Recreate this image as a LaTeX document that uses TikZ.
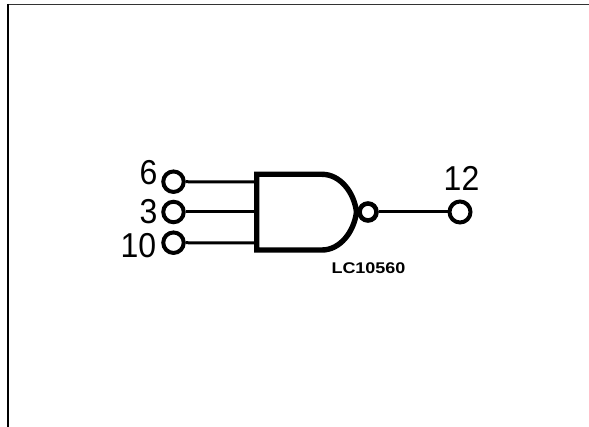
\documentclass[tikz,border=0pt]{standalone}
\usepackage{fontspec}
\setmainfont{Liberation Sans}
\tikzset{
  pin/.style={circle,draw=black,fill=white,line width=4pt,minimum size=20.5pt,inner sep=0pt},
  bubble/.style={circle,draw=black,fill=white,line width=4.6pt,minimum size=17pt,inner sep=0pt},
  wire/.style={draw=black,line width=3pt},
  gatebody/.style={draw=black,line width=5.4pt,line join=miter},
  pinlabel/.style={inner sep=0pt,font=\fontsize{32}{32}\selectfont,yscale=1.08},
  tag/.style={inner sep=0pt,font=\bfseries\fontsize{15.5}{16}\selectfont,xscale=1.16}
}
\begin{document}
\begin{tikzpicture}[x=1pt,y=-1pt]
\useasboundingbox (0,0) rectangle (589,427);
\fill[white] (0,0) rectangle (589,427);
% frame
\draw[line width=1.8pt,draw=black!80] (7,4.6) -- (589,4.6);
\draw[line width=2.1pt,draw=black] (7.6,4) -- (7.6,427);
% gate
\coordinate (g1) at (256.7,182);
\coordinate (g2) at (256.7,212);
\coordinate (g3) at (256.7,243);
\draw[gatebody] (256.7,174.3) -- (322,174.3) .. controls (340,174.3) and (354,192) .. (356.5,212)
  .. controls (354,232) and (340,250) .. (322,250) -- (256.7,250) -- cycle;
% pins
\node[pin] (p6) at (173.5,181.7) {};
\node[pin] (p3) at (173.5,212) {};
\node[pin] (p10) at (173.5,242.7) {};
\node[pin,minimum size=21pt] (p12) at (460,212) {};
\node[bubble] (b) at (368,212) {};
\draw[wire] (p6) -- (g1);
\draw[wire] (p3) -- (g2);
\draw[wire] (p10) -- (g3);
\draw[wire] (b) -- (p12);
% labels
\node[pinlabel] (l6) at (148.5,172.7) {6};
\node[pinlabel] (l3) at (148.5,212) {3};
\node[pinlabel] (l10) at (138.5,245.5) {10};
\node[pinlabel] (l12) at (461.5,178.5) {12};
\node[tag] (t) at (368.5,268) {LC10560};
\end{tikzpicture}
\end{document}
